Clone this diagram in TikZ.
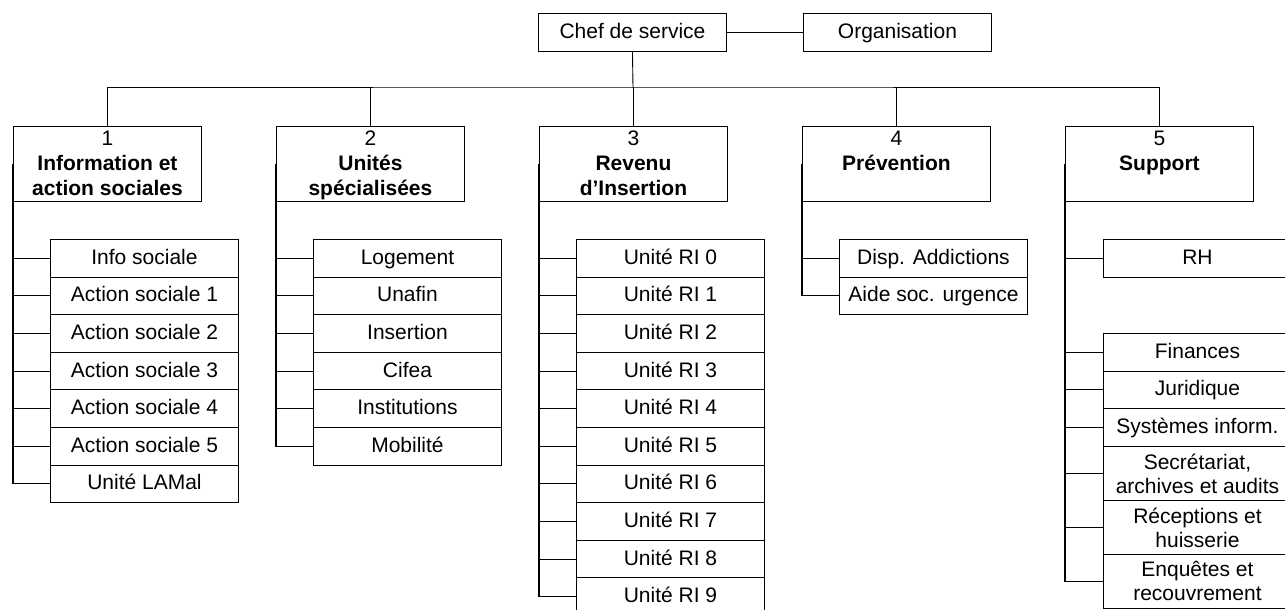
\documentclass[tikz,border=0pt]{standalone}
\usepackage{fontspec}
\setmainfont{Liberation Sans}
\newcommand\dfont{\fontsize{21}{24}\selectfont}
\newcommand\hfont{\fontsize{21}{25}\selectfont}
\newcommand\headtext[1]{\parbox[c][75pt][t]{188pt}{\hfont\centering\vspace*{1.5pt}\strut #1}}
\begin{document}
\begin{tikzpicture}[x=1pt,y=-1pt,
  box/.style={draw, line width=0.9pt, minimum width=188pt, minimum height=37.6pt,
    inner sep=0pt, anchor=north west, font=\dfont, text height=16.5pt, text depth=4.5pt},
  tallbox/.style={draw, line width=0.9pt, minimum width=188pt, minimum height=54pt,
    inner sep=0pt, anchor=north west, font=\dfont, align=center},
  headbox/.style={draw, line width=0.9pt, inner sep=0pt, anchor=north west},
  conn/.style={line width=0.9pt},
  spine/.style={line width=1.2pt}]
\useasboundingbox (0,0) rectangle (1285,610);

% top
\node[box] (chef) at (538,13) {Chef de service};
\node[box] (org) at (803,13) {Organisation};
\draw[conn] (chef) -- (org);

% headers
\node[headbox] (h1) at (13,126) {\headtext{1\\\textbf{Information et}\\\textbf{action sociales}}};
\node[headbox] (h2) at (276,126) {\headtext{2\\\textbf{Unités}\\\textbf{spécialisées}}};
\node[headbox] (h3) at (539,126) {\headtext{3\\\textbf{Revenu}\\\textbf{d’Insertion}}};
\node[headbox] (h4) at (802,126) {\headtext{4\\\textbf{Prévention}}};
\node[headbox] (h5) at (1065,126) {\headtext{5\\\textbf{Support}}};

\coordinate (bus) at (633,87);
\draw[conn] (chef.south) -- (bus);
\draw[conn] (h1.north) |- (bus) -| (h5.north);
\foreach \h in {h2,h3,h4} \draw[conn] (\h.north) -- (\h.north |- bus);

% column 1
\foreach \t [count=\i from 0] in {Info sociale, Action sociale 1, Action sociale 2,
  Action sociale 3, Action sociale 4, Action sociale 5, Unité LAMal}
  \node[box] (a\i) at (50,239+\i*37.6) {\t};
\draw[spine] (h1.west) |- (a6.west);
\foreach \i in {0,...,5} \draw[conn] (a\i.west) -- (h1.west |- a\i.west);

% column 2
\foreach \t [count=\i from 0] in {Logement, Unafin, Insertion, Cifea, Institutions, Mobilité}
  \node[box] (b\i) at (313,239+\i*37.6) {\t};
\draw[spine] (h2.west) |- (b5.west);
\foreach \i in {0,...,4} \draw[conn] (b\i.west) -- (h2.west |- b\i.west);

% column 3
\foreach \i in {0,...,9}
  \node[box] (c\i) at (576,239+\i*37.6) {Unité RI \i};
\draw[spine] (h3.west) |- (c9.west);
\foreach \i in {0,...,8} \draw[conn] (c\i.west) -- (h3.west |- c\i.west);

% column 4
\node[box] (d0) at (839,239) {Disp. Addictions};
\node[box] (d1) at (839,276.6) {Aide soc. urgence};
\draw[spine] (h4.west) |- (d1.west);
\draw[conn] (d0.west) -- (h4.west |- d0.west);

% column 5
\node[box] (e0) at (1103,239) {RH};
\node[box] (e1) at (1103,333) {Finances};
\node[box] (e2) at (1103,370.5) {Juridique};
\node[box] (e3) at (1103,408) {Systèmes inform.};
\node[tallbox] (e4) at (1103,446) {Secrétariat,\\archives et audits};
\node[tallbox] (e5) at (1103,500) {Réceptions et\\huisserie};
\node[tallbox] (e6) at (1103,554) {Enquêtes et\\recouvrement};
\draw[spine] (h5.west) |- (e6.west);
\foreach \i in {0,...,5} \draw[conn] (e\i.west) -- (h5.west |- e\i.west);
\end{tikzpicture}
\end{document}
